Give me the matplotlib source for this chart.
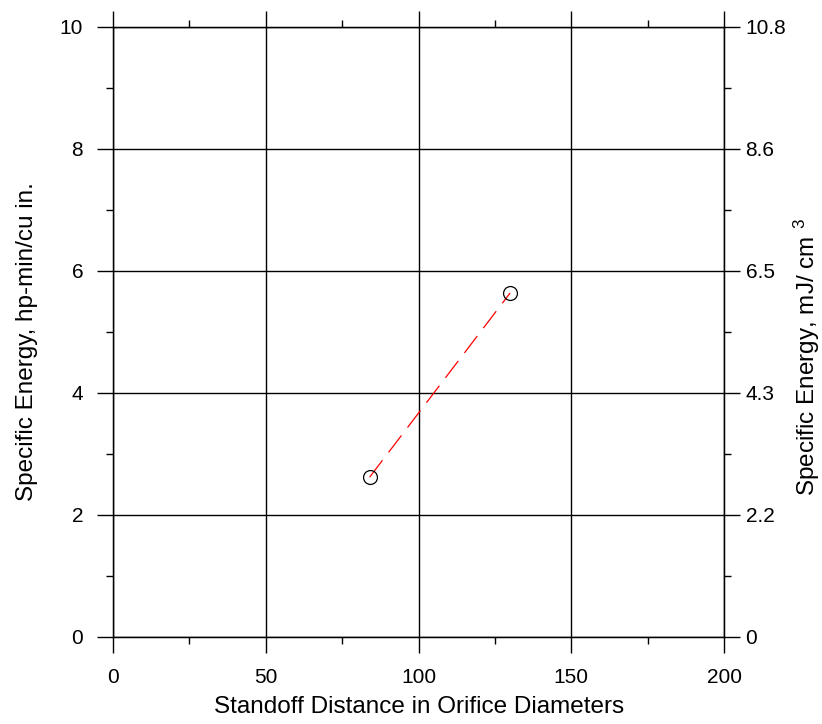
import matplotlib
matplotlib.use("Agg")
import matplotlib.pyplot as plt
from matplotlib.ticker import MultipleLocator

plt.rcParams['font.family'] = ['Liberation Sans', 'DejaVu Sans']
plt.rcParams['mathtext.fontset'] = 'custom'
plt.rcParams['mathtext.rm'] = 'Liberation Sans'
plt.rcParams['mathtext.default'] = 'regular'

standoff = [84, 130]
energy = [2.62, 5.64]
left_ticks = [0, 2, 4, 6, 8, 10]
right_labels = ['0', '2.2', '4.3', '6.5', '8.6', '10.8']
x_ticks = [0, 50, 100, 150, 200]

W, H = 822, 724
fig = plt.figure(figsize=(W/100, H/100), dpi=100)
ax = fig.add_axes([113/W, 87/H, 611/W, 610/H])

ax.plot(standoff, energy, color='red', linestyle=(0, (17, 8)), linewidth=0.9, zorder=3)
ax.plot(standoff, energy, linestyle='none', marker='o', markersize=10,
        markerfacecolor='none', markeredgecolor='black', markeredgewidth=0.9, zorder=4)

ax.set_xlim(0, 200)
ax.set_ylim(0, 10)
ax.set_xticks(x_ticks)
ax.set_yticks(left_ticks)
ax.xaxis.set_minor_locator(MultipleLocator(25))
ax.yaxis.set_minor_locator(MultipleLocator(1))
ax.grid(True, which='major', color='black', linewidth=1.0)

ax.tick_params(which='major', direction='out', length=11.5, width=1.0, labelsize=15,
               top=True, right=True)
ax.tick_params(axis='y', which='major', pad=10)
ax.tick_params(axis='x', which='major', pad=11)
ax.tick_params(which='minor', direction='out', length=5, width=1.0,
               top=True, right=True)
for s in ax.spines.values():
    s.set_linewidth(1.0)

ax2 = ax.twinx()
ax2.set_ylim(0, 10)
ax2.set_yticks(left_ticks)
ax2.set_yticklabels(right_labels)
ax2.yaxis.set_minor_locator(MultipleLocator(1))
ax2.tick_params(which='major', direction='out', length=11.5, width=1.0, labelsize=15, pad=4)
ax2.tick_params(which='minor', direction='out', length=5, width=1.0)

fig.text(419/W, 1 - 707/H, 'Standoff Distance in Orifice Diameters', fontsize=17.5,
         ha='center', va='center')
fig.text(27/W, 1 - 342/H, 'Specific Energy, hp-min/cu in.', fontsize=17.5,
         ha='center', va='center', rotation=90)
fig.text(807/W, 1 - 357/H, r'Specific Energy, mJ/ cm $^{3}$', fontsize=17.5,
         ha='center', va='center', rotation=90)

fig.savefig('out.png', dpi=100)
